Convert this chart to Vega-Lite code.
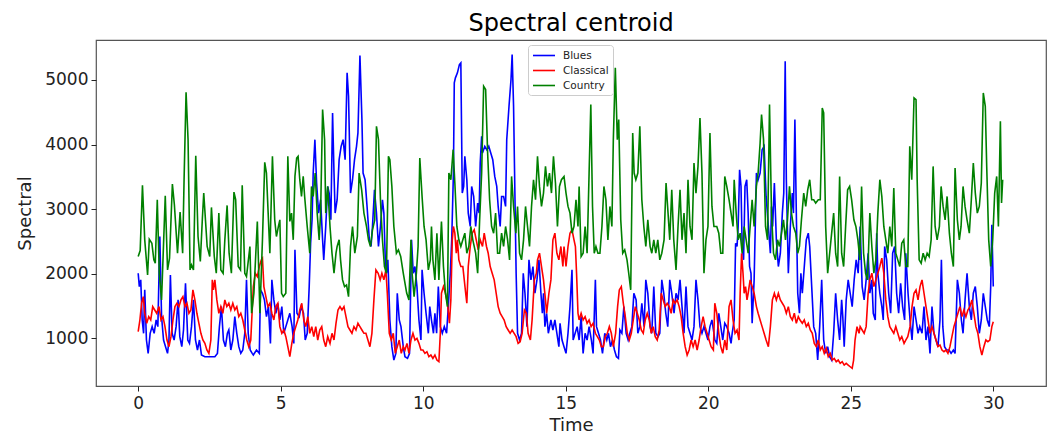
{
"$schema": "https://vega.github.io/schema/vega-lite/v6.json",
"width": 950, "height": 346,
"autosize": {"type": "none"},
"padding": {"left": 96, "top": 40, "right": 5, "bottom": 48},
"background": "white",
"config": {"view": {"stroke": "#555", "strokeWidth": 1.2}, "font": "DejaVu Sans"},
"title": {"text": "Spectral centroid", "fontSize": 24, "fontWeight": "normal", "color": "black", "font": "DejaVu Sans", "offset": 4, "anchor": "middle"},
"datasets": {
"blues": [
{"t":0.00,"v":2008},{"t":0.04,"v":1801},{"t":0.09,"v":1905},{"t":0.14,"v":1284},{"t":0.19,"v":1078},{"t":0.23,"v":1750},{"t":0.29,"v":974},{"t":0.35,"v":767},{"t":0.42,"v":1078},{"t":0.49,"v":1181},{"t":0.56,"v":1078},{"t":0.63,"v":1284},{"t":0.69,"v":1181},{"t":0.76,"v":2577},{"t":0.82,"v":1336},{"t":0.89,"v":974},{"t":0.96,"v":871},{"t":1.03,"v":767},{"t":1.08,"v":974},{"t":1.13,"v":1982},{"t":1.19,"v":1078},{"t":1.26,"v":974},{"t":1.33,"v":1181},{"t":1.40,"v":1595},{"t":1.46,"v":1026},{"t":1.53,"v":871},{"t":1.59,"v":1129},{"t":1.66,"v":1853},{"t":1.74,"v":974},{"t":1.80,"v":922},{"t":1.87,"v":1181},{"t":1.94,"v":1595},{"t":2.01,"v":974},{"t":2.08,"v":819},{"t":2.15,"v":974},{"t":2.22,"v":742},{"t":2.34,"v":716},{"t":2.51,"v":716},{"t":2.69,"v":716},{"t":2.78,"v":767},{"t":2.85,"v":1181},{"t":2.92,"v":1491},{"t":2.99,"v":974},{"t":3.06,"v":871},{"t":3.13,"v":1078},{"t":3.18,"v":1129},{"t":3.25,"v":819},{"t":3.32,"v":974},{"t":3.39,"v":1336},{"t":3.46,"v":1078},{"t":3.53,"v":871},{"t":3.60,"v":767},{"t":3.67,"v":819},{"t":3.74,"v":1078},{"t":3.80,"v":1905},{"t":3.86,"v":1078},{"t":3.93,"v":819},{"t":4.00,"v":767},
{"t":4.04,"v":742},{"t":4.15,"v":819},{"t":4.25,"v":767},{"t":4.29,"v":1750},{"t":4.36,"v":1698},{"t":4.43,"v":1595},{"t":4.50,"v":1336},{"t":4.57,"v":1491},{"t":4.64,"v":922},{"t":4.69,"v":1905},{"t":4.76,"v":1595},{"t":4.83,"v":1388},{"t":4.90,"v":1543},{"t":4.97,"v":1284},{"t":5.04,"v":1491},{"t":5.11,"v":1078},{"t":5.18,"v":1181},{"t":5.25,"v":1284},{"t":5.32,"v":1388},{"t":5.40,"v":1181},{"t":5.46,"v":922},{"t":5.50,"v":2370},{"t":5.57,"v":1388},{"t":5.65,"v":1336},{"t":5.72,"v":1491},{"t":5.80,"v":1388},{"t":5.86,"v":974},{"t":5.93,"v":1078},{"t":6.00,"v":1801},{"t":6.05,"v":2473},{"t":6.10,"v":2835},{"t":6.14,"v":3559},{"t":6.20,"v":4076},{"t":6.26,"v":3404},{"t":6.33,"v":2939},{"t":6.40,"v":3146},{"t":6.47,"v":2525},{"t":6.51,"v":2215},{"t":6.58,"v":2732},{"t":6.65,"v":3352},{"t":6.70,"v":3249},{"t":6.76,"v":2835},{"t":6.82,"v":4490},{"t":6.87,"v":3559},{"t":6.91,"v":2939},{"t":6.98,"v":3146},{"t":7.05,"v":3766},{"t":7.12,"v":3973},{"t":7.19,"v":4076},{"t":7.26,"v":3766},{"t":7.33,"v":5110},{"t":7.38,"v":4748},{"t":7.45,"v":3249},{"t":7.52,"v":3456},{"t":7.59,"v":3766},{"t":7.66,"v":3973},{"t":7.71,"v":4180},{"t":7.78,"v":5379},{"t":7.85,"v":4386},{"t":7.89,"v":3559},{"t":7.96,"v":3456},{"t":8.03,"v":3042},{"t":8.11,"v":2525},{"t":8.17,"v":2422},{"t":8.22,"v":2732},{"t":8.29,"v":3300},{"t":8.36,"v":2939},{"t":8.43,"v":2422},{"t":8.50,"v":2732},{"t":8.57,"v":3146},{"t":8.62,"v":2939},{"t":8.67,"v":2215},{"t":8.71,"v":2008},{"t":8.76,"v":2215},{"t":8.83,"v":1284},{"t":8.90,"v":871},{"t":8.97,"v":664},{"t":9.04,"v":767},{"t":9.09,"v":1698},{"t":9.16,"v":1284},{"t":9.22,"v":1181},{"t":9.30,"v":871},
{"t":9.36,"v":716},{"t":9.45,"v":690},{"t":9.52,"v":767},{"t":9.59,"v":2525},{"t":9.65,"v":2008},{"t":9.71,"v":2112},{"t":9.78,"v":1801},{"t":9.85,"v":1284},{"t":9.92,"v":974},{"t":9.96,"v":2060},{"t":10.03,"v":1698},{"t":10.10,"v":1388},{"t":10.18,"v":1078},{"t":10.23,"v":1491},{"t":10.29,"v":1284},{"t":10.36,"v":1078},{"t":10.41,"v":1388},{"t":10.47,"v":1078},{"t":10.53,"v":1801},{"t":10.60,"v":1181},{"t":10.67,"v":1078},{"t":10.74,"v":1181},{"t":10.82,"v":1078},{"t":10.88,"v":1491},{"t":10.95,"v":2008},{"t":11.00,"v":2525},{"t":11.06,"v":3559},{"t":11.09,"v":4955},{"t":11.13,"v":5033},{"t":11.20,"v":5110},{"t":11.27,"v":5239},{"t":11.32,"v":5265},{"t":11.37,"v":3249},{"t":11.42,"v":3352},{"t":11.46,"v":3818},{"t":11.53,"v":3456},{"t":11.58,"v":2939},{"t":11.65,"v":2732},{"t":11.70,"v":3352},{"t":11.77,"v":3197},{"t":11.84,"v":2732},{"t":11.91,"v":3094},{"t":11.96,"v":2939},{"t":12.00,"v":3714},{"t":12.05,"v":4128},{"t":12.08,"v":3869},{"t":12.16,"v":3973},{"t":12.23,"v":3921},{"t":12.30,"v":3973},{"t":12.37,"v":3869},{"t":12.44,"v":3766},{"t":12.51,"v":3507},{"t":12.58,"v":3352},{"t":12.63,"v":3042},{"t":12.70,"v":2732},{"t":12.75,"v":3197},{"t":12.82,"v":3197},{"t":12.89,"v":3042},{"t":12.93,"v":4076},{"t":13.01,"v":4593},{"t":13.08,"v":5007},{"t":13.12,"v":5394},{"t":13.17,"v":4593},{"t":13.22,"v":3146},{"t":13.26,"v":2008},{"t":13.31,"v":1078},{"t":13.38,"v":974},{"t":13.45,"v":1078},{"t":13.51,"v":2008},{"t":13.57,"v":1698},{"t":13.64,"v":1181},{"t":13.71,"v":2215},{"t":13.78,"v":1905},{"t":13.85,"v":2112},{"t":13.92,"v":1698},{"t":13.99,"v":1905},{"t":14.06,"v":2215},{"t":14.13,"v":1698},{"t":14.18,"v":1388},{"t":14.22,"v":1698},{"t":14.27,"v":1181},{"t":14.33,"v":1388},{"t":14.39,"v":1078},{"t":14.48,"v":1284},{"t":14.55,"v":1129},{"t":14.62,"v":1284},{"t":14.69,"v":1078},{"t":14.76,"v":871},
{"t":14.80,"v":1233},{"t":14.87,"v":974},{"t":14.94,"v":871},{"t":15.01,"v":767},{"t":15.08,"v":1078},{"t":15.15,"v":1491},{"t":15.22,"v":2060},{"t":15.26,"v":974},{"t":15.33,"v":1078},{"t":15.40,"v":1181},{"t":15.47,"v":974},{"t":15.54,"v":1336},{"t":15.61,"v":767},{"t":15.68,"v":1078},{"t":15.75,"v":974},{"t":15.82,"v":1181},{"t":15.90,"v":974},{"t":15.96,"v":767},{"t":16.04,"v":1905},{"t":16.08,"v":1181},{"t":16.15,"v":1078},{"t":16.22,"v":974},{"t":16.29,"v":767},{"t":16.37,"v":1078},{"t":16.44,"v":974},{"t":16.50,"v":1078},{"t":16.57,"v":871},{"t":16.64,"v":974},{"t":16.71,"v":819},{"t":16.78,"v":716},{"t":16.85,"v":690},{"t":16.90,"v":1129},{"t":16.97,"v":1078},{"t":17.04,"v":1491},{"t":17.12,"v":1078},{"t":17.19,"v":974},{"t":17.25,"v":1078},{"t":17.32,"v":1181},{"t":17.39,"v":1698},{"t":17.47,"v":1595},{"t":17.53,"v":1078},{"t":17.60,"v":1181},{"t":17.67,"v":1543},{"t":17.75,"v":1181},{"t":17.81,"v":1905},{"t":17.88,"v":1698},{"t":17.96,"v":1181},{"t":18.02,"v":1078},{"t":18.09,"v":1801},{"t":18.16,"v":1078},{"t":18.24,"v":1026},{"t":18.30,"v":1078},{"t":18.37,"v":1905},{"t":18.44,"v":1698},{"t":18.51,"v":1388},{"t":18.58,"v":1181},{"t":18.65,"v":1905},{"t":18.72,"v":1698},{"t":18.80,"v":1388},{"t":18.87,"v":1698},{"t":18.94,"v":1595},{"t":19.01,"v":1905},{"t":19.08,"v":1491},{"t":19.15,"v":1078},{"t":19.22,"v":1801},{"t":19.29,"v":1181},{"t":19.36,"v":1078},{"t":19.43,"v":974},{"t":19.50,"v":1181},{"t":19.57,"v":1905},{"t":19.64,"v":1595},{"t":19.71,"v":1181},{"t":19.78,"v":1078},{"t":19.85,"v":1181},{"t":19.92,"v":1078},{"t":19.99,"v":974},{"t":20.06,"v":1181},{"t":20.13,"v":1284},{"t":20.20,"v":1078},
{"t":20.23,"v":974},{"t":20.30,"v":922},{"t":20.37,"v":1388},{"t":20.44,"v":1181},{"t":20.51,"v":974},{"t":20.58,"v":1233},{"t":20.65,"v":1181},{"t":20.73,"v":1078},{"t":20.80,"v":922},{"t":20.84,"v":1078},{"t":20.91,"v":1284},{"t":20.96,"v":2473},{"t":21.01,"v":2422},{"t":21.05,"v":2732},{"t":21.10,"v":3611},{"t":21.15,"v":3352},{"t":21.19,"v":2422},{"t":21.24,"v":2215},{"t":21.29,"v":3352},{"t":21.35,"v":3456},{"t":21.40,"v":2939},{"t":21.45,"v":2112},{"t":21.50,"v":2008},{"t":21.54,"v":1233},{"t":21.61,"v":1905},{"t":21.69,"v":3559},{"t":21.75,"v":3456},{"t":21.82,"v":3559},{"t":21.89,"v":3921},{"t":21.96,"v":3973},{"t":22.03,"v":3197},{"t":22.11,"v":2732},{"t":22.18,"v":2318},{"t":22.22,"v":3042},{"t":22.26,"v":2732},{"t":22.32,"v":3404},{"t":22.39,"v":2525},{"t":22.46,"v":2112},{"t":22.53,"v":2318},{"t":22.60,"v":2939},{"t":22.65,"v":3249},{"t":22.70,"v":5291},{"t":22.74,"v":3456},{"t":22.81,"v":2008},{"t":22.88,"v":2732},{"t":22.95,"v":3249},{"t":22.99,"v":2939},{"t":23.04,"v":4386},{"t":23.09,"v":2939},{"t":23.14,"v":1698},{"t":23.20,"v":1388},{"t":23.25,"v":2008},{"t":23.30,"v":1698},{"t":23.37,"v":2112},{"t":23.44,"v":2525},{"t":23.51,"v":2628},{"t":23.56,"v":2422},{"t":23.63,"v":1801},{"t":23.70,"v":1181},{"t":23.77,"v":1078},{"t":23.84,"v":664},{"t":23.91,"v":1181},{"t":23.98,"v":1905},{"t":24.05,"v":974},{"t":24.12,"v":767},{"t":24.19,"v":871},{"t":24.26,"v":716},{"t":24.33,"v":664},{"t":24.40,"v":1078},{"t":24.47,"v":1698},{"t":24.54,"v":1284},{"t":24.61,"v":974},{"t":24.68,"v":1595},{"t":24.72,"v":1336},{"t":24.77,"v":871},{"t":24.84,"v":1595},{"t":24.91,"v":1905},{"t":24.98,"v":1698},{"t":25.05,"v":1491},{"t":25.12,"v":1905},{"t":25.19,"v":2215},{"t":25.26,"v":2008},{"t":25.33,"v":2732},{"t":25.40,"v":1801},{"t":25.47,"v":1595},{"t":25.54,"v":1905},{"t":25.61,"v":2318},
{"t":25.67,"v":1698},{"t":25.74,"v":1905},{"t":25.79,"v":1388},{"t":25.86,"v":1284},{"t":25.91,"v":2628},{"t":25.95,"v":2008},{"t":26.02,"v":1698},{"t":26.09,"v":1491},{"t":26.14,"v":1284},{"t":26.19,"v":2422},{"t":26.26,"v":2215},{"t":26.33,"v":1698},{"t":26.40,"v":1388},{"t":26.47,"v":2318},{"t":26.54,"v":2422},{"t":26.61,"v":1698},{"t":26.68,"v":1388},{"t":26.75,"v":1853},{"t":26.82,"v":1491},{"t":26.89,"v":1284},{"t":26.93,"v":2318},{"t":27.01,"v":1698},{"t":27.08,"v":1284},{"t":27.15,"v":974},{"t":27.22,"v":1491},{"t":27.29,"v":1284},{"t":27.36,"v":1078},{"t":27.42,"v":1181},{"t":27.50,"v":1078},{"t":27.57,"v":1491},{"t":27.64,"v":974},{"t":27.71,"v":1181},{"t":27.78,"v":767},{"t":27.85,"v":1491},{"t":27.92,"v":1078},{"t":27.99,"v":974},{"t":28.06,"v":871},{"t":28.13,"v":1284},{"t":28.18,"v":2215},{"t":28.23,"v":1181},{"t":28.29,"v":871},{"t":28.36,"v":819},{"t":28.45,"v":819},{"t":28.52,"v":767},{"t":28.60,"v":819},{"t":28.66,"v":767},{"t":28.74,"v":1905},{"t":28.81,"v":1698},{"t":28.88,"v":1284},{"t":28.94,"v":1078},{"t":29.01,"v":1595},{"t":29.08,"v":2008},{"t":29.16,"v":1491},{"t":29.23,"v":1284},{"t":29.30,"v":1698},{"t":29.37,"v":1801},{"t":29.44,"v":1491},{"t":29.51,"v":1078},{"t":29.58,"v":1284},{"t":29.65,"v":1698},{"t":29.72,"v":1491},{"t":29.79,"v":1284},{"t":29.86,"v":1181},{"t":29.91,"v":1801},{"t":29.95,"v":2758},{"t":30.00,"v":1801}
],
"classical": [
{"t":0.00,"v":1103},{"t":0.06,"v":1284},{"t":0.12,"v":1543},{"t":0.18,"v":1646},{"t":0.23,"v":1388},{"t":0.30,"v":1233},{"t":0.37,"v":1336},{"t":0.44,"v":1284},{"t":0.51,"v":1491},{"t":0.58,"v":1439},{"t":0.65,"v":1388},{"t":0.73,"v":1491},{"t":0.80,"v":1284},{"t":0.87,"v":1336},{"t":0.94,"v":1181},{"t":1.01,"v":974},{"t":1.08,"v":871},{"t":1.15,"v":1026},{"t":1.22,"v":1284},{"t":1.29,"v":1491},{"t":1.36,"v":1543},{"t":1.43,"v":1491},{"t":1.50,"v":1595},{"t":1.57,"v":1646},{"t":1.64,"v":1491},{"t":1.71,"v":1543},{"t":1.78,"v":1388},{"t":1.85,"v":1439},{"t":1.92,"v":1750},{"t":1.99,"v":1595},{"t":2.06,"v":1388},{"t":2.13,"v":1233},{"t":2.20,"v":1078},{"t":2.27,"v":974},{"t":2.34,"v":922},{"t":2.41,"v":819},{"t":2.48,"v":767},{"t":2.55,"v":974},{"t":2.60,"v":1905},{"t":2.64,"v":1750},{"t":2.69,"v":1905},{"t":2.76,"v":1595},{"t":2.83,"v":1388},{"t":2.90,"v":1491},{"t":2.97,"v":1388},{"t":3.04,"v":1595},{"t":3.11,"v":1491},{"t":3.18,"v":1543},{"t":3.25,"v":1439},{"t":3.32,"v":1543},{"t":3.39,"v":1439},{"t":3.46,"v":1491},{"t":3.53,"v":1336},{"t":3.60,"v":1388},{"t":3.67,"v":1284},{"t":3.74,"v":1129},{"t":3.81,"v":974},{"t":3.88,"v":871},{"t":3.95,"v":974},
{"t":4.04,"v":1801},{"t":4.11,"v":2008},{"t":4.18,"v":1956},{"t":4.25,"v":2112},{"t":4.32,"v":2215},{"t":4.36,"v":2241},{"t":4.41,"v":1801},{"t":4.48,"v":1646},{"t":4.55,"v":1491},{"t":4.62,"v":1543},{"t":4.69,"v":1388},{"t":4.76,"v":1284},{"t":4.83,"v":1491},{"t":4.90,"v":1543},{"t":4.97,"v":1181},{"t":5.04,"v":1078},{"t":5.11,"v":1129},{"t":5.18,"v":1026},{"t":5.25,"v":871},{"t":5.32,"v":716},{"t":5.39,"v":922},{"t":5.46,"v":1078},{"t":5.53,"v":1181},{"t":5.60,"v":1284},{"t":5.67,"v":1439},{"t":5.74,"v":1543},{"t":5.81,"v":1284},{"t":5.88,"v":1181},{"t":5.95,"v":1336},{"t":6.02,"v":1078},{"t":6.09,"v":1181},{"t":6.16,"v":1026},{"t":6.23,"v":1181},{"t":6.30,"v":974},{"t":6.37,"v":1129},{"t":6.44,"v":1181},{"t":6.51,"v":974},{"t":6.58,"v":871},{"t":6.65,"v":1026},{"t":6.73,"v":922},{"t":6.80,"v":1078},{"t":6.87,"v":974},{"t":6.94,"v":1233},{"t":7.01,"v":1439},{"t":7.08,"v":1491},{"t":7.15,"v":1439},{"t":7.22,"v":1491},{"t":7.29,"v":1336},{"t":7.36,"v":1181},{"t":7.43,"v":1129},{"t":7.50,"v":1078},{"t":7.57,"v":1181},{"t":7.64,"v":1129},{"t":7.71,"v":1233},{"t":7.78,"v":1181},{"t":7.85,"v":1129},{"t":7.92,"v":1078},{"t":7.99,"v":1078},{"t":8.06,"v":974},{"t":8.13,"v":871},{"t":8.20,"v":1078},{"t":8.27,"v":1595},{"t":8.34,"v":2060},{"t":8.42,"v":2008},{"t":8.49,"v":1905},{"t":8.55,"v":2008},{"t":8.62,"v":1905},{"t":8.69,"v":2060},{"t":8.74,"v":1698},{"t":8.81,"v":1078},{"t":8.88,"v":974},{"t":8.95,"v":1078},{"t":9.02,"v":767},{"t":9.09,"v":871},{"t":9.16,"v":974},{"t":9.23,"v":767},{"t":9.30,"v":871},
{"t":9.36,"v":819},{"t":9.43,"v":922},{"t":9.50,"v":767},{"t":9.57,"v":974},{"t":9.64,"v":1078},{"t":9.71,"v":974},{"t":9.78,"v":1000},{"t":9.85,"v":922},{"t":9.92,"v":819},{"t":9.99,"v":819},{"t":10.06,"v":767},{"t":10.13,"v":793},{"t":10.20,"v":716},{"t":10.27,"v":742},{"t":10.34,"v":690},{"t":10.41,"v":742},{"t":10.48,"v":664},{"t":10.55,"v":638},{"t":10.60,"v":1078},{"t":10.64,"v":1698},{"t":10.71,"v":1801},{"t":10.78,"v":1698},{"t":10.85,"v":1543},{"t":10.92,"v":1233},{"t":10.97,"v":1595},{"t":11.02,"v":2525},{"t":11.06,"v":2732},{"t":11.11,"v":2628},{"t":11.16,"v":2318},{"t":11.20,"v":2525},{"t":11.25,"v":2215},{"t":11.32,"v":2112},{"t":11.39,"v":2112},{"t":11.44,"v":1905},{"t":11.49,"v":1698},{"t":11.53,"v":1543},{"t":11.58,"v":2112},{"t":11.65,"v":2422},{"t":11.72,"v":2628},{"t":11.79,"v":2680},{"t":11.86,"v":2525},{"t":11.93,"v":2370},{"t":12.00,"v":2525},{"t":12.08,"v":2422},{"t":12.14,"v":2628},{"t":12.22,"v":2422},{"t":12.28,"v":2318},{"t":12.35,"v":2112},{"t":12.42,"v":2008},{"t":12.49,"v":1905},{"t":12.56,"v":1698},{"t":12.63,"v":1491},{"t":12.70,"v":1388},{"t":12.77,"v":1336},{"t":12.84,"v":1284},{"t":12.91,"v":1181},{"t":12.98,"v":1129},{"t":13.05,"v":1078},{"t":13.12,"v":1129},{"t":13.19,"v":1078},{"t":13.26,"v":1026},{"t":13.33,"v":922},{"t":13.40,"v":948},{"t":13.47,"v":1078},{"t":13.55,"v":1439},{"t":13.62,"v":1388},{"t":13.68,"v":1078},{"t":13.76,"v":974},{"t":13.82,"v":1284},{"t":13.90,"v":1905},{"t":13.97,"v":2008},{"t":14.01,"v":2215},{"t":14.08,"v":2318},{"t":14.15,"v":2112},{"t":14.22,"v":1905},{"t":14.29,"v":1595},{"t":14.33,"v":1388},{"t":14.41,"v":1698},{"t":14.48,"v":1905},{"t":14.55,"v":2525},{"t":14.62,"v":2628},{"t":14.69,"v":2318},{"t":14.76,"v":2215},{"t":14.83,"v":2422},{"t":14.90,"v":2112},
{"t":14.94,"v":2422},{"t":15.01,"v":2112},{"t":15.08,"v":2422},{"t":15.15,"v":2628},{"t":15.22,"v":2680},{"t":15.29,"v":2525},{"t":15.34,"v":2422},{"t":15.38,"v":2008},{"t":15.43,"v":1388},{"t":15.47,"v":1284},{"t":15.54,"v":1388},{"t":15.61,"v":1284},{"t":15.68,"v":1336},{"t":15.75,"v":1233},{"t":15.82,"v":1284},{"t":15.89,"v":1181},{"t":15.96,"v":1233},{"t":16.04,"v":1078},{"t":16.11,"v":1026},{"t":16.18,"v":974},{"t":16.25,"v":871},{"t":16.32,"v":871},{"t":16.39,"v":1026},{"t":16.46,"v":1078},{"t":16.53,"v":1181},{"t":16.60,"v":1078},{"t":16.67,"v":871},{"t":16.75,"v":1078},{"t":16.82,"v":1491},{"t":16.88,"v":1750},{"t":16.95,"v":1801},{"t":17.02,"v":1543},{"t":17.09,"v":1336},{"t":17.16,"v":1078},{"t":17.23,"v":974},{"t":17.30,"v":1078},{"t":17.37,"v":1284},{"t":17.44,"v":1491},{"t":17.51,"v":1388},{"t":17.58,"v":1284},{"t":17.65,"v":1129},{"t":17.72,"v":1078},{"t":17.79,"v":1284},{"t":17.86,"v":1388},{"t":17.93,"v":1284},{"t":18.00,"v":1078},{"t":18.07,"v":1181},{"t":18.14,"v":1026},{"t":18.21,"v":974},{"t":18.28,"v":1129},{"t":18.35,"v":1698},{"t":18.42,"v":1595},{"t":18.49,"v":1491},{"t":18.56,"v":1543},{"t":18.63,"v":1491},{"t":18.70,"v":1388},{"t":18.77,"v":1595},{"t":18.84,"v":1543},{"t":18.91,"v":1595},{"t":18.98,"v":1491},{"t":19.05,"v":1336},{"t":19.12,"v":1078},{"t":19.19,"v":871},{"t":19.26,"v":742},{"t":19.33,"v":819},{"t":19.40,"v":974},{"t":19.47,"v":871},{"t":19.54,"v":974},{"t":19.61,"v":819},{"t":19.68,"v":974},{"t":19.75,"v":1181},{"t":19.82,"v":1336},{"t":19.89,"v":1181},{"t":19.96,"v":1078},{"t":20.03,"v":974},{"t":20.10,"v":871},{"t":20.18,"v":819},
{"t":20.23,"v":1543},{"t":20.30,"v":1388},{"t":20.37,"v":1078},{"t":20.44,"v":871},{"t":20.51,"v":767},{"t":20.58,"v":974},{"t":20.65,"v":819},{"t":20.73,"v":1491},{"t":20.80,"v":1595},{"t":20.87,"v":1284},{"t":20.94,"v":1078},{"t":21.01,"v":1129},{"t":21.08,"v":974},{"t":21.12,"v":1698},{"t":21.17,"v":2318},{"t":21.22,"v":2008},{"t":21.26,"v":1698},{"t":21.31,"v":1801},{"t":21.36,"v":1595},{"t":21.40,"v":1698},{"t":21.47,"v":1905},{"t":21.54,"v":1801},{"t":21.61,"v":1698},{"t":21.69,"v":1491},{"t":21.75,"v":1388},{"t":21.82,"v":1284},{"t":21.89,"v":1181},{"t":21.96,"v":1078},{"t":22.03,"v":974},{"t":22.11,"v":871},{"t":22.18,"v":1181},{"t":22.25,"v":1595},{"t":22.32,"v":1698},{"t":22.39,"v":1595},{"t":22.46,"v":1698},{"t":22.53,"v":1595},{"t":22.60,"v":1543},{"t":22.67,"v":1491},{"t":22.74,"v":1388},{"t":22.81,"v":1491},{"t":22.88,"v":1336},{"t":22.95,"v":1284},{"t":23.02,"v":1388},{"t":23.09,"v":1233},{"t":23.16,"v":1336},{"t":23.22,"v":1284},{"t":23.30,"v":1233},{"t":23.37,"v":1284},{"t":23.44,"v":1181},{"t":23.51,"v":1233},{"t":23.58,"v":1129},{"t":23.65,"v":1078},{"t":23.72,"v":922},{"t":23.79,"v":871},{"t":23.86,"v":974},{"t":23.93,"v":819},{"t":24.00,"v":871},{"t":24.07,"v":767},{"t":24.14,"v":845},{"t":24.21,"v":716},{"t":24.28,"v":767},{"t":24.35,"v":664},{"t":24.42,"v":690},{"t":24.49,"v":638},{"t":24.56,"v":664},{"t":24.63,"v":612},{"t":24.70,"v":638},{"t":24.77,"v":586},{"t":24.84,"v":612},{"t":24.91,"v":586},{"t":24.98,"v":560},{"t":25.05,"v":535},{"t":25.10,"v":664},{"t":25.15,"v":974},{"t":25.22,"v":1181},{"t":25.29,"v":1078},{"t":25.33,"v":1181},{"t":25.40,"v":1129},{"t":25.47,"v":1078},{"t":25.54,"v":1181},{"t":25.61,"v":1698},
{"t":25.67,"v":1905},{"t":25.74,"v":2008},{"t":25.81,"v":1801},{"t":25.88,"v":1905},{"t":25.95,"v":2008},{"t":26.02,"v":2112},{"t":26.09,"v":2241},{"t":26.16,"v":2008},{"t":26.23,"v":1595},{"t":26.30,"v":1336},{"t":26.37,"v":1181},{"t":26.44,"v":1129},{"t":26.51,"v":1078},{"t":26.58,"v":1181},{"t":26.65,"v":1078},{"t":26.72,"v":974},{"t":26.79,"v":1026},{"t":26.87,"v":922},{"t":26.93,"v":974},{"t":27.00,"v":1026},{"t":27.08,"v":1181},{"t":27.15,"v":1491},{"t":27.22,"v":1698},{"t":27.29,"v":1750},{"t":27.36,"v":1595},{"t":27.43,"v":1801},{"t":27.50,"v":1905},{"t":27.57,"v":1698},{"t":27.64,"v":1491},{"t":27.71,"v":1284},{"t":27.78,"v":1078},{"t":27.85,"v":1181},{"t":27.92,"v":1078},{"t":27.99,"v":974},{"t":28.06,"v":871},{"t":28.13,"v":897},{"t":28.20,"v":819},{"t":28.27,"v":793},{"t":28.34,"v":819},{"t":28.41,"v":767},{"t":28.48,"v":871},{"t":28.55,"v":1026},{"t":28.62,"v":1181},{"t":28.69,"v":1284},{"t":28.76,"v":1388},{"t":28.83,"v":1491},{"t":28.90,"v":1336},{"t":28.97,"v":1439},{"t":29.04,"v":1336},{"t":29.11,"v":1439},{"t":29.18,"v":1491},{"t":29.25,"v":1595},{"t":29.32,"v":1388},{"t":29.39,"v":1181},{"t":29.46,"v":1078},{"t":29.53,"v":871},{"t":29.60,"v":742},{"t":29.67,"v":871},{"t":29.74,"v":974},{"t":29.81,"v":948},{"t":29.88,"v":974},{"t":29.95,"v":1181},{"t":30.00,"v":1258}
],
"country": [
{"t":0.00,"v":2267},{"t":0.07,"v":2360},{"t":0.15,"v":3368},{"t":0.23,"v":2525},{"t":0.33,"v":1982},{"t":0.39,"v":2535},{"t":0.48,"v":2473},{"t":0.55,"v":2215},{"t":0.60,"v":2163},{"t":0.67,"v":3146},{"t":0.74,"v":2008},{"t":0.82,"v":1595},{"t":0.95,"v":3208},{"t":1.03,"v":2060},{"t":1.10,"v":2241},{"t":1.20,"v":3389},{"t":1.27,"v":3068},{"t":1.38,"v":2318},{"t":1.47,"v":2954},{"t":1.56,"v":2318},{"t":1.61,"v":3456},{"t":1.68,"v":4810},{"t":1.75,"v":4076},{"t":1.82,"v":2060},{"t":1.87,"v":2137},{"t":1.94,"v":2060},{"t":2.02,"v":3828},{"t":2.10,"v":2577},{"t":2.18,"v":2189},{"t":2.25,"v":2835},{"t":2.30,"v":3249},{"t":2.42,"v":2422},{"t":2.51,"v":2267},{"t":2.57,"v":3027},{"t":2.67,"v":2267},{"t":2.74,"v":2008},{"t":2.83,"v":2939},{"t":2.90,"v":2060},{"t":2.98,"v":2008},{"t":3.04,"v":2525},{"t":3.12,"v":3058},{"t":3.19,"v":2318},{"t":3.27,"v":2008},{"t":3.36,"v":3264},{"t":3.42,"v":3146},{"t":3.51,"v":2112},{"t":3.59,"v":2060},{"t":3.65,"v":3368},{"t":3.74,"v":2008},{"t":3.80,"v":1956},{"t":3.92,"v":2422},
{"t":3.98,"v":1388},{"t":4.06,"v":1698},{"t":4.18,"v":2810},{"t":4.27,"v":1388},{"t":4.36,"v":2525},{"t":4.44,"v":3724},{"t":4.50,"v":3559},{"t":4.56,"v":2939},{"t":4.62,"v":2318},{"t":4.71,"v":3818},{"t":4.79,"v":2835},{"t":4.85,"v":2577},{"t":4.92,"v":2732},{"t":4.97,"v":2835},{"t":5.03,"v":1698},{"t":5.09,"v":1646},{"t":5.18,"v":1698},{"t":5.25,"v":3818},{"t":5.32,"v":2810},{"t":5.38,"v":2939},{"t":5.44,"v":2525},{"t":5.50,"v":3507},{"t":5.56,"v":3792},{"t":5.61,"v":3818},{"t":5.67,"v":3456},{"t":5.73,"v":3197},{"t":5.79,"v":3507},{"t":5.84,"v":3197},{"t":5.93,"v":2732},{"t":6.02,"v":2318},{"t":6.08,"v":3352},{"t":6.14,"v":3197},{"t":6.21,"v":3559},{"t":6.28,"v":2939},{"t":6.35,"v":2525},{"t":6.40,"v":2939},{"t":6.47,"v":4541},{"t":6.54,"v":4076},{"t":6.58,"v":2939},{"t":6.65,"v":3352},{"t":6.73,"v":2732},{"t":6.80,"v":2318},{"t":6.87,"v":2010},{"t":6.94,"v":2318},{"t":6.98,"v":2422},{"t":7.05,"v":2525},{"t":7.10,"v":2215},{"t":7.17,"v":1905},{"t":7.24,"v":1801},{"t":7.31,"v":1827},{"t":7.38,"v":1646},{"t":7.45,"v":2422},{"t":7.52,"v":2732},{"t":7.60,"v":2318},{"t":7.69,"v":2577},{"t":7.75,"v":3559},{"t":7.84,"v":3300},{"t":7.92,"v":2939},{"t":8.01,"v":2732},{"t":8.08,"v":2525},{"t":8.15,"v":2422},{"t":8.22,"v":2680},{"t":8.30,"v":2835},{"t":8.36,"v":4283},{"t":8.43,"v":4076},{"t":8.50,"v":3146},{"t":8.57,"v":2525},{"t":8.64,"v":2112},{"t":8.71,"v":2008},{"t":8.78,"v":3818},{"t":8.83,"v":3766},{"t":8.90,"v":3352},{"t":8.97,"v":2732},{"t":9.06,"v":2318},{"t":9.13,"v":2370},{"t":9.21,"v":2267},{"t":9.30,"v":2008},
{"t":9.42,"v":1700},{"t":9.50,"v":1595},{"t":9.57,"v":2525},{"t":9.61,"v":2008},{"t":9.68,"v":1646},{"t":9.76,"v":2008},{"t":9.82,"v":2422},{"t":9.88,"v":3792},{"t":9.96,"v":3197},{"t":10.03,"v":2732},{"t":10.10,"v":2525},{"t":10.18,"v":2060},{"t":10.25,"v":2215},{"t":10.29,"v":2732},{"t":10.34,"v":2215},{"t":10.41,"v":1905},{"t":10.48,"v":2628},{"t":10.55,"v":1905},{"t":10.64,"v":2810},{"t":10.71,"v":2112},{"t":10.78,"v":1698},{"t":10.85,"v":1491},{"t":10.90,"v":3559},{"t":10.97,"v":3456},{"t":11.05,"v":3921},{"t":11.11,"v":3404},{"t":11.18,"v":2732},{"t":11.25,"v":2525},{"t":11.32,"v":2422},{"t":11.39,"v":2525},{"t":11.46,"v":2628},{"t":11.53,"v":2318},{"t":11.60,"v":2422},{"t":11.67,"v":2732},{"t":11.74,"v":2525},{"t":11.84,"v":2318},{"t":11.91,"v":2008},{"t":11.98,"v":2835},{"t":12.05,"v":3559},{"t":12.12,"v":4903},{"t":12.19,"v":4852},{"t":12.26,"v":3869},{"t":12.33,"v":3146},{"t":12.40,"v":2732},{"t":12.47,"v":2628},{"t":12.54,"v":2939},{"t":12.61,"v":2318},{"t":12.68,"v":2318},{"t":12.75,"v":2628},{"t":12.82,"v":2422},{"t":12.89,"v":2732},{"t":12.96,"v":2525},{"t":13.03,"v":2215},{"t":13.10,"v":3507},{"t":13.17,"v":3042},{"t":13.25,"v":2628},{"t":13.31,"v":3042},{"t":13.38,"v":2318},{"t":13.45,"v":2215},{"t":13.52,"v":2525},{"t":13.59,"v":3042},{"t":13.66,"v":2732},{"t":13.73,"v":2422},{"t":13.80,"v":3042},{"t":13.87,"v":3456},{"t":13.94,"v":3146},{"t":14.01,"v":3818},{"t":14.08,"v":3352},{"t":14.15,"v":3042},{"t":14.22,"v":3249},{"t":14.29,"v":3662},{"t":14.36,"v":3352},{"t":14.43,"v":3559},{"t":14.50,"v":3249},{"t":14.57,"v":3818},{"t":14.64,"v":3404},{"t":14.71,"v":2732},{"t":14.78,"v":3352},{"t":14.85,"v":3456},
{"t":14.94,"v":3507},{"t":15.01,"v":3249},{"t":15.08,"v":3042},{"t":15.15,"v":2939},{"t":15.22,"v":2628},{"t":15.29,"v":2732},{"t":15.36,"v":3146},{"t":15.43,"v":2732},{"t":15.47,"v":3352},{"t":15.54,"v":2267},{"t":15.61,"v":2318},{"t":15.68,"v":2732},{"t":15.75,"v":2318},{"t":15.82,"v":3559},{"t":15.88,"v":4619},{"t":15.94,"v":3042},{"t":16.00,"v":2318},{"t":16.06,"v":2422},{"t":16.13,"v":2318},{"t":16.20,"v":2318},{"t":16.27,"v":2732},{"t":16.34,"v":3352},{"t":16.41,"v":3146},{"t":16.48,"v":2525},{"t":16.55,"v":3042},{"t":16.62,"v":2732},{"t":16.67,"v":4076},{"t":16.74,"v":5188},{"t":16.81,"v":4076},{"t":16.86,"v":4386},{"t":16.93,"v":2835},{"t":17.00,"v":2318},{"t":17.07,"v":2370},{"t":17.15,"v":2215},{"t":17.21,"v":2008},{"t":17.28,"v":1750},{"t":17.35,"v":4180},{"t":17.40,"v":3559},{"t":17.46,"v":3456},{"t":17.53,"v":3559},{"t":17.60,"v":4283},{"t":17.67,"v":3146},{"t":17.74,"v":2732},{"t":17.81,"v":2422},{"t":17.88,"v":2835},{"t":17.96,"v":2422},{"t":18.02,"v":2318},{"t":18.09,"v":2525},{"t":18.16,"v":2318},{"t":18.23,"v":2525},{"t":18.30,"v":2215},{"t":18.37,"v":2318},{"t":18.45,"v":2525},{"t":18.52,"v":3404},{"t":18.59,"v":2939},{"t":18.65,"v":2525},{"t":18.72,"v":3300},{"t":18.79,"v":2525},{"t":18.87,"v":2060},{"t":18.94,"v":2732},{"t":19.01,"v":3300},{"t":19.08,"v":2525},{"t":19.15,"v":2939},{"t":19.22,"v":2318},{"t":19.29,"v":3456},{"t":19.36,"v":2732},{"t":19.43,"v":2525},{"t":19.50,"v":3714},{"t":19.57,"v":3249},{"t":19.64,"v":3662},{"t":19.71,"v":4412},{"t":19.78,"v":3559},{"t":19.85,"v":2008},{"t":19.92,"v":2525},{"t":19.99,"v":2732},{"t":20.06,"v":4180},{"t":20.13,"v":3042},{"t":20.20,"v":2732},
{"t":20.30,"v":2732},{"t":20.37,"v":2628},{"t":20.44,"v":2318},{"t":20.51,"v":2318},{"t":20.58,"v":3507},{"t":20.65,"v":3352},{"t":20.73,"v":3146},{"t":20.80,"v":2939},{"t":20.87,"v":2732},{"t":20.91,"v":3456},{"t":20.98,"v":2939},{"t":21.05,"v":2525},{"t":21.12,"v":2628},{"t":21.19,"v":2318},{"t":21.26,"v":2732},{"t":21.33,"v":2525},{"t":21.40,"v":2318},{"t":21.47,"v":2732},{"t":21.54,"v":3146},{"t":21.61,"v":2732},{"t":21.69,"v":3352},{"t":21.75,"v":3559},{"t":21.82,"v":4025},{"t":21.87,"v":4464},{"t":21.94,"v":4076},{"t":22.01,"v":2732},{"t":22.08,"v":2525},{"t":22.15,"v":4619},{"t":22.22,"v":2939},{"t":22.29,"v":2318},{"t":22.36,"v":2215},{"t":22.43,"v":2525},{"t":22.50,"v":2422},{"t":22.57,"v":2628},{"t":22.64,"v":2835},{"t":22.71,"v":2525},{"t":22.78,"v":2835},{"t":22.85,"v":3352},{"t":22.92,"v":2939},{"t":22.99,"v":2732},{"t":23.07,"v":2628},{"t":23.14,"v":2318},{"t":23.20,"v":2422},{"t":23.27,"v":2835},{"t":23.35,"v":3249},{"t":23.42,"v":3042},{"t":23.49,"v":3300},{"t":23.56,"v":3456},{"t":23.63,"v":3146},{"t":23.70,"v":3146},{"t":23.77,"v":3094},{"t":23.86,"v":3146},{"t":23.93,"v":3146},{"t":24.00,"v":4567},{"t":24.05,"v":4490},{"t":24.12,"v":2732},{"t":24.19,"v":2008},{"t":24.26,"v":2318},{"t":24.33,"v":2628},{"t":24.40,"v":2939},{"t":24.47,"v":2318},{"t":24.54,"v":2112},{"t":24.61,"v":3507},{"t":24.68,"v":2318},{"t":24.75,"v":2112},{"t":24.82,"v":2732},{"t":24.89,"v":3300},{"t":24.96,"v":3352},{"t":25.03,"v":3146},{"t":25.11,"v":2835},{"t":25.18,"v":2732},{"t":25.25,"v":2525},{"t":25.32,"v":2215},{"t":25.38,"v":3352},{"t":25.45,"v":2318},{"t":25.52,"v":2008},{"t":25.59,"v":1905},{"t":25.64,"v":2577},
{"t":25.67,"v":2939},{"t":25.74,"v":2422},{"t":25.81,"v":2008},{"t":25.88,"v":2215},{"t":25.95,"v":2939},{"t":26.02,"v":3456},{"t":26.09,"v":3197},{"t":26.16,"v":2732},{"t":26.23,"v":2525},{"t":26.30,"v":2318},{"t":26.37,"v":2732},{"t":26.44,"v":2422},{"t":26.51,"v":3326},{"t":26.58,"v":2318},{"t":26.65,"v":2215},{"t":26.72,"v":2112},{"t":26.79,"v":2473},{"t":26.86,"v":2525},{"t":26.93,"v":2112},{"t":27.00,"v":2112},{"t":27.07,"v":3973},{"t":27.14,"v":3456},{"t":27.22,"v":4722},{"t":27.29,"v":4697},{"t":27.33,"v":3456},{"t":27.40,"v":2215},{"t":27.47,"v":2163},{"t":27.54,"v":2318},{"t":27.61,"v":2215},{"t":27.68,"v":2318},{"t":27.75,"v":2267},{"t":27.82,"v":2525},{"t":27.89,"v":3662},{"t":27.96,"v":2732},{"t":28.03,"v":2525},{"t":28.11,"v":2732},{"t":28.17,"v":3352},{"t":28.24,"v":3042},{"t":28.31,"v":2835},{"t":28.38,"v":3197},{"t":28.46,"v":2628},{"t":28.53,"v":2318},{"t":28.60,"v":2112},{"t":28.66,"v":3637},{"t":28.74,"v":2835},{"t":28.81,"v":2525},{"t":28.87,"v":2732},{"t":28.94,"v":3352},{"t":29.01,"v":3042},{"t":29.08,"v":2835},{"t":29.16,"v":2628},{"t":29.23,"v":3146},{"t":29.30,"v":3714},{"t":29.37,"v":3249},{"t":29.44,"v":2939},{"t":29.51,"v":3042},{"t":29.58,"v":3404},{"t":29.65,"v":4800},{"t":29.72,"v":4593},{"t":29.77,"v":3662},{"t":29.84,"v":2525},{"t":29.91,"v":2112},{"t":29.98,"v":2525},{"t":30.05,"v":3249},{"t":30.12,"v":3507},{"t":30.18,"v":2732},{"t":30.25,"v":4360},{"t":30.29,"v":3094},{"t":30.33,"v":3456}
]
},
"layer": [
{"data": {"name": "blues"}, "transform": [{"calculate": "'Blues'", "as": "genre"}], "mark": {"type": "line", "strokeWidth": 1.6, "clip": true}},
{"data": {"name": "classical"}, "transform": [{"calculate": "'Classical'", "as": "genre"}], "mark": {"type": "line", "strokeWidth": 1.6, "clip": true}},
{"data": {"name": "country"}, "transform": [{"calculate": "'Country'", "as": "genre"}], "mark": {"type": "line", "strokeWidth": 1.6, "clip": true}}
],
"encoding": {
"x": {"field": "t", "type": "quantitative", "scale": {"domain": [-1.48, 31.85], "nice": false, "zero": false},
  "axis": {"values": [0,5,10,15,20,25,30], "format": "d", "title": "Time", "grid": false, "domain": false, "labelFontSize": 17, "titleFontSize": 18, "titleFontWeight": "normal", "tickSize": 5, "tickColor": "#222", "labelColor": "#222", "titleColor": "#222", "labelPadding": 4, "titlePadding": 5, "labelFont": "DejaVu Sans", "titleFont": "DejaVu Sans"}},
"y": {"field": "v", "type": "quantitative", "scale": {"domain": [262, 5619], "nice": false, "zero": false},
  "axis": {"values": [1000,2000,3000,4000,5000], "format": "d", "title": "Spectral", "grid": false, "domain": false, "labelFontSize": 17, "titleFontSize": 18, "titleFontWeight": "normal", "tickSize": 5, "tickColor": "#222", "labelColor": "#222", "titleColor": "#222", "labelPadding": 3, "titlePadding": 10, "labelFont": "DejaVu Sans", "titleFont": "DejaVu Sans"}},
"color": {"field": "genre", "type": "nominal", "scale": {"domain": ["Blues","Classical","Country"], "range": ["#0000ff","#ff0000","#008000"]},
  "legend": {"title": null, "orient": "none", "legendX": 432, "legendY": 5, "symbolType": "M-1,0L3,0", "symbolSize": 121, "symbolStrokeWidth": 1.6, "symbolFillColor": "transparent", "labelFontSize": 10.5, "labelFont": "DejaVu Sans", "labelColor": "#222", "labelOffset": 18, "strokeColor": "#ccc", "fillColor": "white", "padding": 4, "cornerRadius": 3, "rowPadding": 3}}
}
}
